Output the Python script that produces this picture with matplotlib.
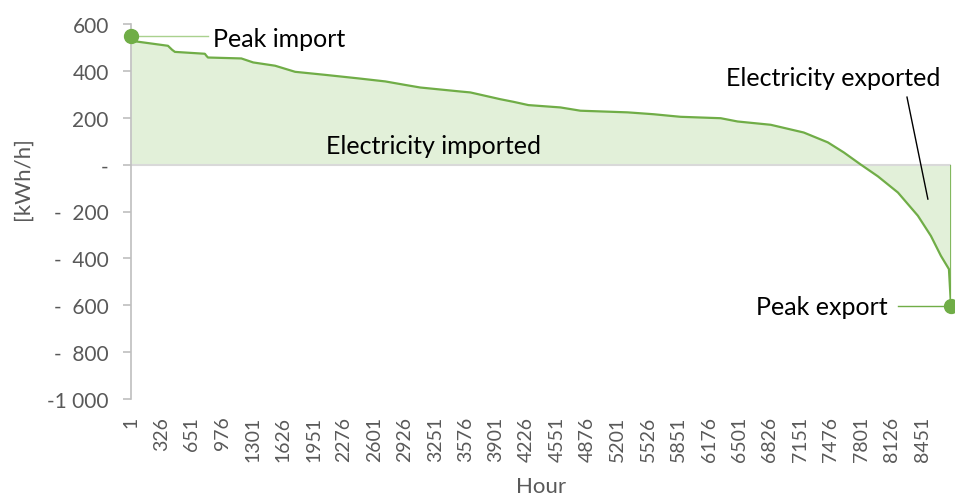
import matplotlib
import matplotlib.pyplot as plt

matplotlib.use('Agg')

# duration curve of net grid exchange, sorted from highest import to highest export
hours = [1, 10, 396, 440, 470, 790, 805, 823, 1180, 1306, 1540, 1754, 2075, 2428,
         2717, 2930, 3091, 3519, 3626, 3947, 4086, 4246, 4588, 4802, 5305, 5583,
         5765, 5872, 6300, 6481, 6834, 7187, 7444, 7615, 7797, 7979, 8193, 8406,
         8545, 8652, 8738, 8760]
net_kwh = [548, 528, 507, 490, 481, 473, 465, 457, 453, 436, 422, 396, 383, 368,
           355, 340, 329, 312, 308, 279, 268, 254, 244, 230, 223, 215,
           208, 204, 198, 184, 170, 137, 95, 52, 0, -50, -119, -218,
           -304, -389, -446, -604]

hour_ticks = list(range(1, 8760, 325))
y_ticks = [600, 400, 200, 0, -200, -400, -600, -800, -1000]
y_tick_labels = ['600', '400', '200', '-', '-  200', '-  400', '-  600', '-  800', '-1 000']

GREEN = '#70AD47'
LIGHT_GREEN = '#E2F0D9'
LEADER_GREEN = '#A9D18E'
GREY = '#595959'

plt.rcParams['font.family'] = ['Lato', 'DejaVu Sans']

fig = plt.figure(figsize=(9.55, 5.02), dpi=100)
ax = fig.add_axes([131 / 955, 1 - 400 / 502, 820 / 955, 375 / 502])

ax.fill_between(hours, net_kwh, 0, color=LIGHT_GREEN, linewidth=0, zorder=1)
ax.axhline(0, color='#D9D9D9', linewidth=1.5, zorder=2)
ax.plot(hours, net_kwh, color=GREEN, linewidth=1.6, zorder=3)
ax.vlines(hours[-1], net_kwh[-1], 0, color=GREEN, linewidth=1.2, zorder=3)

# peak markers
ax.plot([hours[0], hours[-1]], [net_kwh[0], net_kwh[-1]], 'o', color=GREEN,
        markersize=10, zorder=4, clip_on=False)

# labels and leader lines
ax.plot([hours[0], 825], [net_kwh[0], net_kwh[0]], color=LEADER_GREEN, linewidth=1, zorder=2)
ax.text(880, net_kwh[0] - 12, 'Peak import', fontsize=18, va='center', ha='left')

ax.plot([8195, hours[-1]], [net_kwh[-1], net_kwh[-1]], color=GREEN, linewidth=1, zorder=2)
ax.text(8085, net_kwh[-1] - 2, 'Peak export', fontsize=18, va='center', ha='right')

ax.text(3230, 83, 'Electricity imported', fontsize=18, va='center', ha='center')

ax.text(7500, 372, 'Electricity exported', fontsize=18, va='center', ha='center')
ax.plot([8290, 8513], [288, -147], color='black', linewidth=1, zorder=2)

ax.set_xlim(1, 8760)
ax.set_ylim(-1000, 600)

ax.set_xticks(hour_ticks)
ax.set_xticklabels([str(h) for h in hour_ticks], rotation=90, va='top', ha='center')
ax.tick_params(axis='x', length=0, pad=12, labelsize=14, labelcolor=GREY)

ax.set_yticks(y_ticks)
ax.set_yticklabels(y_tick_labels)
ax.tick_params(axis='y', length=6, width=1.2, color='#BFBFBF', pad=10,
               labelsize=15, labelcolor=GREY)

for side in ['top', 'right', 'bottom']:
    ax.spines[side].set_visible(False)
ax.spines['left'].set_color('#BFBFBF')
ax.spines['left'].set_linewidth(1.2)

ax.set_xlabel('Hour', fontsize=16, color=GREY, labelpad=11)
ax.set_ylabel('[kWh/h]', fontsize=16, color=GREY)
ax.yaxis.set_label_coords(-0.12, 0.59)

fig.savefig('out.png', dpi=100)
